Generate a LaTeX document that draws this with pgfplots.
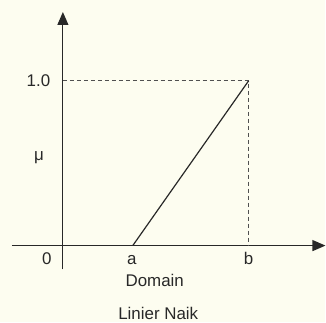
\documentclass[border=0pt]{standalone}
\usepackage{pgfplots}
\pgfplotsset{compat=1.18}
\usepackage{fontspec}
\setmainfont{Liberation Sans}
\usetikzlibrary{arrows.meta}
\definecolor{paper}{RGB}{253,253,240}
\definecolor{ink}{RGB}{40,40,40}
\definecolor{guidegray}{RGB}{80,80,80}
\tikzset{lbl/.style={font=\fontsize{17}{20}\selectfont, text=ink, inner sep=0pt, anchor=base}}
\begin{document}
\begin{tikzpicture}
\begin{axis}[
  scale only axis, width=326bp, height=323bp,
  xmin=-63, xmax=263, ymin=-0.46667, ymax=1.49091,
  axis lines=none, clip=false,
  axis background/.style={fill=paper},
]
% axes
\addplot[ink, line width=1.1pt, -{Triangle[length=13bp,width=11bp]}] coordinates {(-51,0) (263,0)};
\addplot[ink, line width=1.1pt, -{Triangle[length=13bp,width=11bp]}] coordinates {(0,-0.145) (0,1.418)};
% guide lines to the top of the ramp
\addplot[guidegray, line width=1pt, dash pattern=on 4.5bp off 2.5bp] coordinates {(0,1) (186,1) (186,0)};
% linear increasing membership: 0 at a, 1 at b
\addplot[ink, line width=1.2pt] coordinates {(70,0) (186,1)};
% labels
\node[lbl] at (axis cs:-24.5,0.9636) {1.0};
\node[lbl] at (axis cs:-24,0.515) {μ};
\node[lbl] at (axis cs:-16,-0.115) {0};
\node[lbl] at (axis cs:69,-0.115) {a};
\node[lbl] at (axis cs:186,-0.115) {b};
\node[lbl] at (axis cs:92,-0.2485) {Domain};
\node[lbl] at (axis cs:95.5,-0.4485) {Linier Naik};
\end{axis}
\end{tikzpicture}
\end{document}
